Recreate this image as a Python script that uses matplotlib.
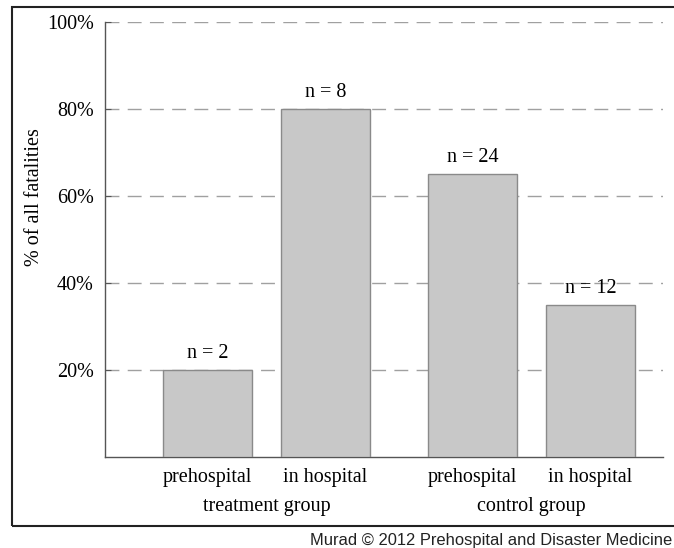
import matplotlib.pyplot as plt
from matplotlib.patches import Rectangle

# data
categories = ['prehospital', 'in hospital', 'prehospital', 'in hospital']
groups = ['treatment group', 'control group']
percent = [20, 80, 65, 35]
counts = [2, 8, 24, 12]
positions = [1, 2, 3.246, 4.246]

plt.rcParams['font.family'] = ['Liberation Serif', 'DejaVu Serif']
fs = 14.5

fig = plt.figure(figsize=(6.74, 5.48), dpi=100)
ax = fig.add_axes([105 / 674, 1 - 457 / 548, 558 / 674, 435 / 548])

# frame around the chart
fig.patches.append(Rectangle((12 / 674, 1 - 526 / 548), 0.99, 519 / 548,
                             transform=fig.transFigure, fill=False,
                             edgecolor='#222222', linewidth=1.5))

ax.bar(positions, percent, width=0.754, color='#c8c8c8', edgecolor='#8a8a8a',
       linewidth=1.0, zorder=3)

for x, p, n in zip(positions, percent, counts):
    ax.annotate(f'n = {n}', (x, p), xytext=(0, 5), textcoords='offset points',
                ha='center', va='bottom', fontsize=fs, zorder=4)

ax.set_xlim(0.131, 4.86)
ax.set_ylim(0, 100)
ax.set_yticks([20, 40, 60, 80, 100])
ax.set_yticklabels([f'{v}%' for v in [20, 40, 60, 80, 100]], fontsize=fs)
ax.yaxis.grid(True, linestyle=(0, (10, 6)), color='#a0a0a0', linewidth=1.0, zorder=0)
ax.tick_params(axis='y', length=4, width=0.8, color='#555555', pad=8, direction='in')
ax.set_xticks(positions)
ax.set_xticklabels(categories, fontsize=fs)
ax.tick_params(axis='x', length=0, pad=8)

ax.set_ylabel('% of all fatalities', fontsize=fs)
ax.yaxis.set_label_coords(-0.11, 0.598)

for g, xc in zip(groups, [(positions[0] + positions[1]) / 2,
                          (positions[2] + positions[3]) / 2]):
    ax.text(xc, -0.113, g, transform=ax.get_xaxis_transform(),
            ha='center', va='center', fontsize=fs)

for s in ['top', 'right']:
    ax.spines[s].set_visible(False)
for s in ['left', 'bottom']:
    ax.spines[s].set_color('#555555')
    ax.spines[s].set_linewidth(1.0)

fig.text(672 / 674, 1 - 541 / 548, 'Murad © 2012 Prehospital and Disaster Medicine',
         ha='right', va='center', fontsize=11.9, family=['Liberation Sans', 'DejaVu Sans'],
         color='#222222')

fig.savefig('out.png', dpi=100)
